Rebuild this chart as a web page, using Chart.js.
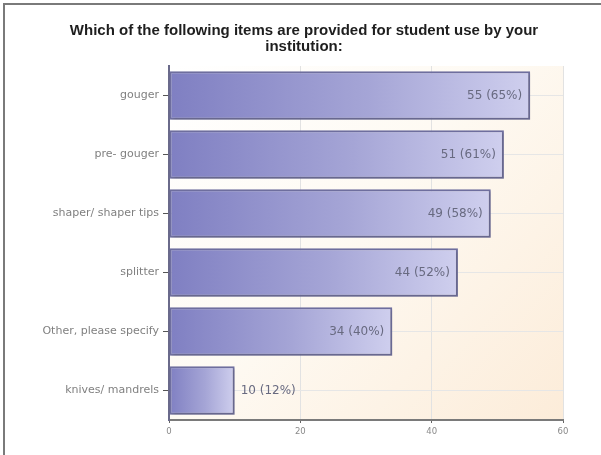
<!DOCTYPE html>
<html>
<head>
<meta charset="utf-8">
<script src="https://cdn.jsdelivr.net/npm/chart.js@4/dist/chart.umd.min.js"></script>
<style>
  html, body { margin: 0; padding: 0; background: #fff; }
  #wrap { position: relative; width: 601px; height: 455px; }
  #marco { position: absolute; left: 3px; top: 3px; right: 0; bottom: 0;
           border-top: 2px solid #7a7a7a; border-left: 2px solid #7a7a7a; }
  canvas { position: absolute; left: 0; top: 0; }
</style>
</head>
<body>
<div id="wrap">
  <div id="marco"></div>
  <canvas id="grafica" width="601" height="455"></canvas>
</div>
<script>
// datos
const categorias = ['gouger', 'pre- gouger', 'shaper/ shaper tips', 'splitter', 'Other, please specify', 'knives/ mandrels'];
const respuestas = [55, 51, 49, 44, 34, 10];
const porcentajes = [65, 61, 58, 52, 40, 12];
const ticksX = [0, 20, 40, 60];
const tituloLineas = ['Which of the following items are provided for student use by your', 'institution:'];

// fondo del area de la grafica (blanco -> durazno)
const fondoPlugin = {
    id: 'fondo',
    beforeDraw(chart) {
        const { ctx, chartArea: a } = chart;
        const g = ctx.createLinearGradient(a.left, a.top, a.right, a.bottom);
        g.addColorStop(0, '#ffffff');
        g.addColorStop(0.45, '#fefaf3');
        g.addColorStop(1, '#fcecd9');
        ctx.save();
        ctx.fillStyle = g;
        ctx.fillRect(a.left, a.top, a.right - a.left, a.bottom - a.top);
        ctx.restore();
    }
};

// sombra de las barras
const sombraPlugin = {
    id: 'sombra',
    beforeDatasetsDraw(chart) {
        const ctx = chart.ctx;
        ctx.save();
        ctx.shadowColor = 'rgba(90, 90, 110, 0.35)';
        ctx.shadowOffsetX = 2;
        ctx.shadowOffsetY = 2;
        ctx.shadowBlur = 2;
    },
    afterDatasetsDraw(chart) {
        chart.ctx.restore();
    }
};

// titulo y etiquetas de valores
const textosPlugin = {
    id: 'textos',
    afterDraw(chart) {
        const ctx = chart.ctx;
        ctx.save();
        ctx.fillStyle = '#1e1e1e';
        ctx.font = 'bold 15px "Liberation Sans", Arial, sans-serif';
        ctx.textAlign = 'center';
        ctx.textBaseline = 'alphabetic';
        tituloLineas.forEach((t, i) => ctx.fillText(t, 304, 35 + i * 16));

        const meta = chart.getDatasetMeta(0);
        ctx.font = '12px "DejaVu Sans", Verdana, sans-serif';
        ctx.fillStyle = '#686a80';
        ctx.textBaseline = 'middle';
        meta.data.forEach((bar, i) => {
            const txt = respuestas[i] + ' (' + porcentajes[i] + '%)';
            const w = ctx.measureText(txt).width;
            const largo = bar.x - bar.base;
            if (largo > w + 40) {
                ctx.textAlign = 'right';
                ctx.fillText(txt, bar.x - 8, bar.y);
            } else {
                ctx.textAlign = 'left';
                ctx.fillText(txt, bar.x + 6, bar.y);
            }
        });
        ctx.restore();
    }
};

function degradadoBarra(context) {
    const chart = context.chart;
    if (!chart.chartArea) return '#9a9ad0';
    const sx = chart.scales.x;
    const x0 = sx.getPixelForValue(0);
    const x1 = sx.getPixelForValue(context.raw);
    const g = chart.ctx.createLinearGradient(x0, 0, x1, 0);
    g.addColorStop(0, '#7f7fc2');
    g.addColorStop(0.55, '#a5a5d6');
    g.addColorStop(1, '#cfcfee');
    return g;
}

const ctx = document.getElementById('grafica').getContext('2d');
new Chart(ctx, {
    type: 'bar',
    data: {
        labels: categorias,
        datasets: [{
            data: respuestas,
            backgroundColor: degradadoBarra,
            borderColor: '#6e6e9e',
            borderWidth: 2,
            borderSkipped: false,
            categoryPercentage: 1,
            barPercentage: 0.82
        }]
    },
    options: {
        indexAxis: 'y',
        responsive: false,
        animation: false,
        layout: { padding: { top: 66, right: 38, left: 0, bottom: 0 } },
        plugins: {
            legend: { display: false },
            title: { display: false },
            tooltip: { enabled: false }
        },
        scales: {
            x: {
                min: 0,
                max: 60,
                afterBuildTicks: (s) => { s.ticks = ticksX.map(v => ({ value: v })); },
                afterFit: (s) => { s.height = 35; },
                grid: { color: '#e2e2e2', tickColor: '#666', tickLength: 3, drawTicks: true },
                border: { color: '#7a7a7a', width: 2 },
                ticks: {
                    color: '#8a8a8a',
                    font: { size: 8.5, family: '"DejaVu Sans", Verdana, sans-serif' },
                    padding: 4
                }
            },
            y: {
                afterFit: (s) => { s.width = 169; },
                grid: { offset: false, color: '#e6e6e6', tickColor: '#555', tickLength: 6 },
                border: { color: '#6a6a8a', width: 2 },
                ticks: {
                    color: '#808080',
                    font: { size: 11, family: '"DejaVu Sans", Verdana, sans-serif' },
                    padding: 4
                }
            }
        }
    },
    plugins: [fondoPlugin, sombraPlugin, textosPlugin]
});
</script>
</body>
</html>
